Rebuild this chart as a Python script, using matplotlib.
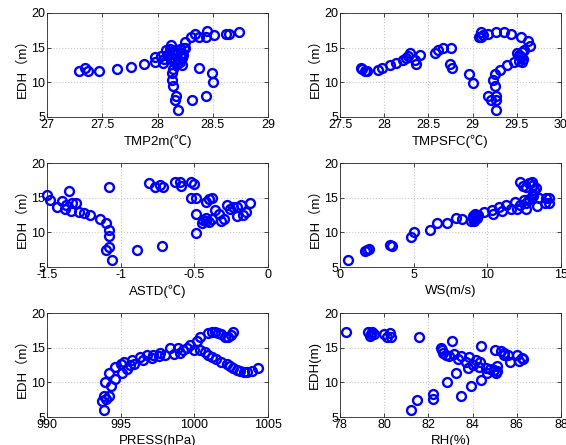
import matplotlib
matplotlib.use("Agg")
import matplotlib.pyplot as plt

plt.rcParams['font.family'] = ['Liberation Sans', 'Noto Sans CJK SC', 'DejaVu Sans']

# ---- data ----
tmp2m_x = [27.29, 27.34, 27.37, 27.47, 27.63, 27.76, 27.88, 27.98, 27.98, 28.05, 28.03, 28.08,
           28.12, 28.10, 28.12, 28.14, 28.16, 28.18, 28.20, 28.22, 28.24, 28.15, 28.19, 28.21,
           28.13, 28.17, 28.23, 28.25, 28.06, 28.09, 28.11, 28.20, 28.22, 28.18,
           28.25, 28.30, 28.34, 28.38, 28.44, 28.45, 28.51, 28.62, 28.65, 28.74,
           28.14, 28.13, 28.13, 28.14, 28.17, 28.16, 28.19, 28.31, 28.44, 28.50, 28.49, 28.38, 28.22]
tmp2m_y = [11.7, 12.0, 11.6, 11.7, 11.9, 12.2, 12.6, 12.9, 13.6, 12.8, 13.8, 14.6,
           15.4, 14.0, 13.5, 14.2, 13.4, 14.3, 14.8, 14.2, 14.9, 13.0, 13.2, 13.8,
           14.5, 14.6, 14.0, 15.0, 13.3, 13.9, 14.8, 12.9, 13.5, 12.6,
           15.8, 16.5, 16.9, 16.6, 16.6, 17.4, 16.8, 17.0, 17.0, 17.2,
           11.9, 11.3, 10.4, 9.4, 8.0, 7.5, 6.0, 7.4, 8.1, 10.0, 11.3, 12.1, 12.5]

tmpsfc_x = [27.74, 27.75, 27.78, 27.80, 27.93, 27.97, 28.06, 28.13, 28.21, 28.25, 28.27, 28.29,
            28.35, 28.36, 28.40, 28.58, 28.61, 28.66, 28.76, 28.74, 28.77, 28.96, 29.01,
            29.07, 29.09, 29.12, 29.10, 29.17, 29.27, 29.36, 29.44, 29.55, 29.63, 29.65,
            29.56, 29.53, 29.55, 29.57, 29.54, 29.58, 29.52, 29.56, 29.50,
            29.47, 29.39, 29.31, 29.25, 29.23, 29.25, 29.17, 29.21, 29.27, 29.27, 29.27]
tmpsfc_y = [12.1, 11.9, 11.6, 11.6, 11.8, 12.1, 12.5, 12.8, 13.2, 13.5, 13.8, 14.2,
            13.2, 12.7, 14.0, 14.3, 14.6, 14.9, 14.9, 12.6, 12.0, 11.2, 9.9,
            16.6, 17.2, 16.8, 16.5, 17.0, 17.2, 17.2, 17.0, 16.5, 15.9, 15.3,
            14.4, 14.0, 13.6, 13.3, 13.8, 14.6, 13.1, 13.0, 14.2,
            12.9, 12.5, 11.8, 11.2, 10.3, 9.4, 8.1, 7.4, 8.0, 7.5, 6.0]

astd_x = [-1.50, -1.48, -1.43, -1.40, -1.38, -1.37, -1.35, -1.34, -1.33, -1.30, -1.28, -1.25,
          -1.21, -1.14, -1.10, -1.08, -1.08, -1.08, -1.10, -1.06, -1.08,
          -0.89, -0.72, -0.81, -0.77, -0.73, -0.71, -0.63, -0.60, -0.59, -0.52, -0.50,
          -0.52, -0.49, -0.49, -0.49, -0.45, -0.44, -0.42, -0.40, -0.42, -0.38,
          -0.42, -0.40, -0.38, -0.36, -0.33, -0.32, -0.30, -0.28, -0.26, -0.24, -0.21,
          -0.21, -0.18, -0.17, -0.15, -0.12]
astd_y = [15.4, 14.7, 13.6, 14.5, 13.3, 14.0, 15.9, 13.1, 14.3, 14.2, 13.0, 12.8,
          12.5, 11.9, 11.3, 10.3, 9.4, 7.9, 7.5, 6.0, 16.5,
          7.4, 8.1, 17.1, 16.5, 16.8, 16.6, 17.3, 17.2, 16.7, 17.2, 17.0,
          14.9, 15.0, 12.6, 9.9, 11.3, 11.8, 12.1, 11.5, 11.6, 11.9,
          14.4, 14.8, 15.0, 13.2, 12.7, 11.6, 11.9, 14.0, 13.3, 13.7, 13.6,
          12.3, 14.0, 12.5, 12.9, 14.2]

ws_x = [0.55, 1.7, 1.85, 2.0, 3.4, 3.5, 4.85, 5.0, 6.1, 6.55, 7.25, 7.85, 8.3,
        8.9, 9.0, 9.05, 9.1, 9.15, 9.2, 9.3, 9.4, 9.0, 9.1, 9.25,
        9.8, 10.3, 10.4, 10.8, 11.0, 11.3, 11.6, 11.9, 12.0, 12.2, 12.5, 12.6, 12.8, 12.6,
        12.2, 12.4, 12.6, 12.8, 13.0, 13.1, 13.2, 13.3, 13.1, 13.1,
        13.5, 13.4, 14.0, 14.2, 13.9, 14.2]
ws_y = [6.0, 7.3, 7.5, 7.6, 8.2, 8.0, 9.3, 10.1, 10.3, 11.3, 11.3, 12.1, 11.9,
        11.6, 12.0, 12.4, 11.8, 12.6, 12.2, 12.0, 12.5, 12.2, 11.7, 12.4,
        12.9, 13.2, 12.7, 13.6, 13.1, 14.0, 13.4, 14.4, 13.4, 13.9, 14.6, 13.4, 14.8, 14.2,
        17.3, 16.7, 16.5, 17.1, 17.2, 16.8, 16.1, 16.4, 15.6, 15.2,
        14.9, 13.8, 14.9, 14.9, 14.2, 14.2]

press_x = [993.9, 993.7, 993.9, 994.0, 994.2, 993.95, 994.35, 994.2, 994.6, 994.6,
           995.0, 995.1, 995.2, 995.4, 995.6, 995.75, 995.9, 996.3, 996.5, 996.8,
           997.1, 997.2, 997.6, 997.7, 998.0, 998.35, 998.6, 998.9, 999.0, 999.2,
           999.5, 999.7, 1000.2, 1000.4, 1000.9, 1001.2, 1001.4, 1001.6, 1001.8,
           1002.1, 1002.3, 1002.5, 1002.6,
           1000.0, 1000.4, 1000.7, 1000.9, 1001.2, 1001.5, 1001.8, 1002.2, 1002.4,
           1002.6, 1002.9, 1003.1, 1003.4, 1003.6, 1003.9, 1004.3]
press_y = [6.0, 7.3, 8.1, 7.6, 8.0, 10.0, 9.4, 11.3, 12.2, 10.5,
           12.6, 11.3, 12.9, 11.9, 12.5, 13.2, 12.7, 13.6, 13.2, 13.9,
           13.5, 14.0, 13.8, 14.2, 14.0, 14.9, 14.1, 14.9, 14.2, 14.7,
           15.0, 15.4, 15.9, 16.5, 17.1, 17.3, 17.2, 17.1, 16.9,
           16.6, 16.5, 16.8, 17.3,
           14.7, 14.6, 14.4, 14.0, 13.7, 13.3, 13.0, 12.7, 12.4,
           12.1, 11.8, 11.6, 11.5, 11.5, 11.7, 12.1]

rh_x = [78.27, 79.26, 79.4, 79.45, 79.55, 79.36, 79.97, 80.12, 80.24, 80.3, 81.56,
        82.55, 82.6, 82.67, 82.8, 83.07, 82.95, 83.14, 83.33, 83.48, 83.68, 83.83,
        83.8, 84.03, 84.14, 84.33, 84.3, 84.36, 84.6, 84.67, 84.8, 84.95, 85.05,
        85.1, 85.12, 85.0, 85.27, 85.4, 85.4, 85.6, 85.7, 86.0, 86.1, 86.23, 86.3,
        83.27, 82.82, 83.91, 84.36, 82.21, 82.21, 83.48, 81.48, 81.2]
rh_y = [17.3, 17.2, 16.9, 17.3, 16.9, 16.7, 16.9, 16.6, 17.1, 16.5, 16.5,
        15.0, 14.6, 14.3, 14.0, 15.9, 13.8, 14.1, 13.4, 13.8, 12.9, 13.6,
        12.0, 12.5, 13.2, 12.9, 12.2, 15.3, 12.0, 11.3, 11.9, 11.8, 11.4,
        11.7, 12.4, 14.7, 14.5, 14.2, 13.9, 14.0, 12.9, 13.9, 13.1, 13.5, 13.4,
        11.3, 10.0, 9.4, 10.3, 8.3, 7.6, 8.1, 7.4, 6.0]

panels = [
    (tmp2m_x, tmp2m_y, "TMP2m(℃)", "EDH（m）", (27, 29), [27, 27.5, 28, 28.5, 29]),
    (tmpsfc_x, tmpsfc_y, "TMPSFC(℃)", "EDH（m）", (27.5, 30), [27.5, 28, 28.5, 29, 29.5, 30]),
    (astd_x, astd_y, "ASTD(℃)", "EDH（m）", (-1.5, 0), [-1.5, -1, -0.5, 0]),
    (ws_x, ws_y, "WS(m/s)", "EDH（m）", (0, 15), [0, 5, 10, 15]),
    (press_x, press_y, "PRESS(hPa)", "EDH（m）", (990, 1005), [990, 995, 1000, 1005]),
    (rh_x, rh_y, "RH(%)", "EDH(m)", (78, 88), [78, 80, 82, 84, 86, 88]),
]
y_ticks = [5, 10, 15, 20]

W, H = 566, 445
fig = plt.figure(figsize=(W / 100, H / 100), dpi=100)
lefts = [47, 340]
tops = [13, 163, 313]
aw, ah = 221, 104

for i, (xs, ys, xl, yl, xlim, xt) in enumerate(panels):
    r, c = divmod(i, 2)
    ax = fig.add_axes([lefts[c] / W, 1 - (tops[r] + ah) / H, aw / W, ah / H])
    ax.plot(xs, ys, linestyle='none', marker='o', markersize=6.4,
            markerfacecolor='none', markeredgecolor='#0000ff', markeredgewidth=1.7,
            clip_on=False)
    ax.set_xlim(*xlim)
    ax.set_ylim(5, 20)
    ax.set_xticks(xt)
    ax.set_xticklabels([f"{v:g}" for v in xt])
    ax.set_yticks(y_ticks)
    ax.grid(True, linestyle=':', color='#c8c8c8', linewidth=0.8)
    ax.tick_params(direction='in', length=3, width=0.6, labelsize=9, top=True, right=True,
                   pad=1.5, colors='#262626', labelcolor='black')
    for s in ax.spines.values():
        s.set_linewidth(0.6)
        s.set_color('#262626')
    ax.set_xlabel(xl, fontsize=9.5, labelpad=3)
    ax.set_ylabel(yl, fontsize=9.5, labelpad=2)

fig.savefig("out.png", dpi=100)
